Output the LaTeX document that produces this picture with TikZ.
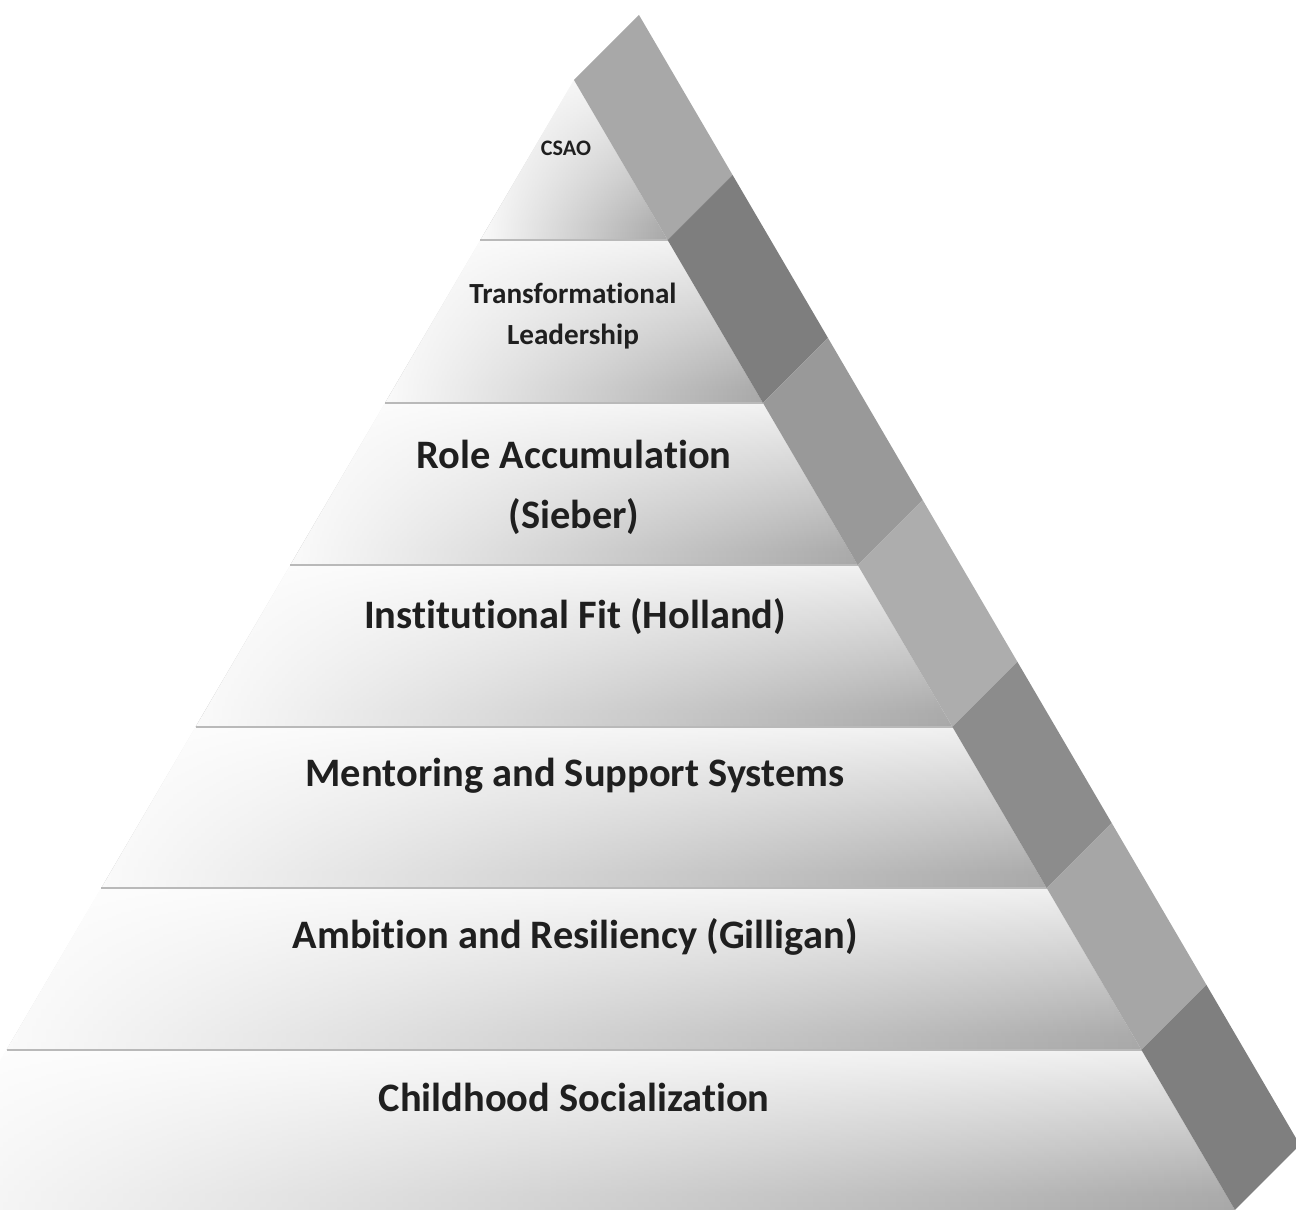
\documentclass[tikz,border=0pt]{standalone}
\usepackage{fontspec}
\setmainfont{Carlito}[Ligatures={NoCommon}]
\usetikzlibrary{fadings}
\pgfdeclareverticalshading{rowshade}{100bp}{color(0bp)=(black!40); color(30bp)=(black!33); color(62bp)=(black!14); color(84bp)=(white); color(100bp)=(white)}
\tikzfading[name=fadeleft, left color=transparent!5, middle color=transparent!85, right color=transparent!100]
\definecolor{sA}{HTML}{A8A8A8}
\definecolor{sB}{HTML}{7E7E7E}
\definecolor{sC}{HTML}{999999}
\definecolor{sD}{HTML}{ADADAD}
\definecolor{sE}{HTML}{8C8C8C}
\definecolor{sF}{HTML}{A6A6A6}
\definecolor{sG}{HTML}{7F7F7F}
\tikzset{
  rowfill/.style={shading=rowshade},
  rowfade/.style={fill=white, path fading=fadeleft},
  rowline/.style={draw=gray!55, line width=0.5pt},
  lbl/.style={font=\fontsize{11.5}{17}\selectfont\bfseries, text=black!88, align=center, inner sep=0pt},
}
\begin{document}
\begin{tikzpicture}[x=0.01cm, y=-0.01cm]
\useasboundingbox (0,0) rectangle (1296,1210);
\clip (0,0) rectangle (1296,1210);
% front rows
\foreach \p in {
  {(574,80) -- (667.6,240) -- (480.4,240) -- cycle},
  {(480.4,240) -- (667.6,240) -- (763,403) -- (385,403) -- cycle},
  {(385,403) -- (763,403) -- (857.7,565) -- (290.3,565) -- cycle},
  {(290.3,565) -- (857.7,565) -- (952.5,727) -- (195.5,727) -- cycle},
  {(195.5,727) -- (952.5,727) -- (1046.7,888) -- (101.3,888) -- cycle},
  {(101.3,888) -- (1046.7,888) -- (1141.5,1050) -- (6.5,1050) -- cycle},
  {(6.5,1050) -- (1141.5,1050) -- (1235,1210) -- (-87,1210) -- cycle}}
{
  \shade[rowfill] \p;
  \fill[rowfade] \p;
}
% divider lines
\draw[rowline] (480.4,240) -- (667.6,240);
\draw[rowline] (385,403) -- (763,403);
\draw[rowline] (290.3,565) -- (857.7,565);
\draw[rowline] (195.5,727) -- (952.5,727);
\draw[rowline] (101.3,888) -- (1046.7,888);
\draw[rowline] (6.5,1050) -- (1141.5,1050);
% side strip
\fill[sA] (574,80) -- (667.6,240) -- (732.6,175) -- (639,15) -- cycle;
\fill[sB] (667.6,240) -- (763,403) -- (828,338) -- (732.6,175) -- cycle;
\fill[sC] (763,403) -- (857.7,565) -- (922.7,500) -- (828,338) -- cycle;
\fill[sD] (857.7,565) -- (952.5,727) -- (1017.5,662) -- (922.7,500) -- cycle;
\fill[sE] (952.5,727) -- (1046.7,888) -- (1111.7,823) -- (1017.5,662) -- cycle;
\fill[sF] (1046.7,888) -- (1141.5,1050) -- (1206.5,985) -- (1111.7,823) -- cycle;
\fill[sG] (1141.5,1050) -- (1235,1210) -- (1300,1145) -- (1206.5,985) -- cycle;
% labels
\node[lbl, font=\fontsize{6.3}{8}\selectfont\bfseries] (csao) at (566,148) {CSAO};
\node[lbl, font=\fontsize{8.3}{11.7}\selectfont\bfseries] (tl) at (573,316) {Transformational\\Leadership};
\node[lbl] (ra) at (574,487) {Role Accumulation\\(Sieber)};
\node[lbl] (if) at (575,617) {Institutional Fit (Holland)};
\node[lbl] (ms) at (575,776) {Mentoring and Support Systems};
\node[lbl] (ar) at (575,937) {Ambition and Resiliency (Gilligan)};
\node[lbl] (cs) at (574,1097) {Childhood Socialization};
\end{tikzpicture}
\end{document}
